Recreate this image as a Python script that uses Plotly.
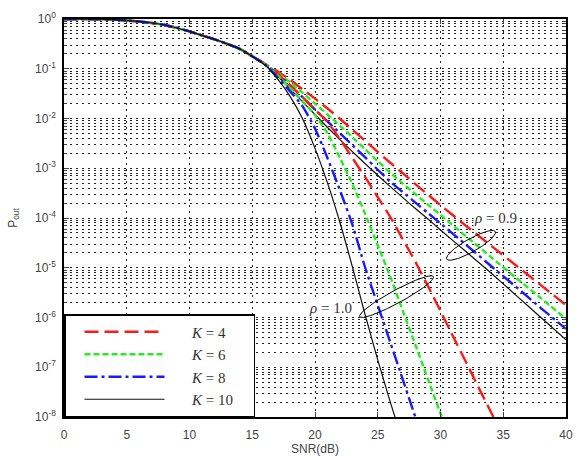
import numpy as np
import plotly.graph_objects as go

# ---------------- data (values are log10(P_out)) -------------
snr_low = [0, 2, 4, 5, 6, 7, 8, 9, 10, 11, 12, 13, 14, 15]
logp_low = [0.0, -0.001, -0.012, -0.03, -0.05, -0.08, -0.12, -0.18, -0.25, -0.33,
            -0.41, -0.5, -0.6, -0.75]

# rho = 1.0 (steep curves)
snr_r1_k4 = [16, 17, 18, 19, 20, 21, 22, 23, 24, 25, 26, 27, 28, 29, 30, 31, 32, 33, 34, 35]
logp_r1_k4 = [-0.9, -1.1, -1.33, -1.57, -1.82, -2.07, -2.42, -2.8, -3.18, -3.58, -3.98,
              -4.43, -4.88, -5.37, -5.87, -6.38, -6.88, -7.39, -7.89, -8.4]
snr_r1_k6 = [16, 17, 18, 19, 20, 21, 22, 23, 24, 25, 26, 27, 28, 29, 30, 31]
logp_r1_k6 = [-0.9, -1.13, -1.38, -1.65, -1.93, -2.3, -2.8, -3.33, -3.92, -4.55, -5.18,
              -5.87, -6.55, -7.24, -7.93, -8.6]
snr_r1_k8 = [16, 17, 18, 19, 20, 21, 22, 23, 24, 25, 26, 27, 28, 29]
logp_r1_k8 = [-0.91, -1.17, -1.45, -1.75, -2.2, -2.8, -3.45, -4.15, -5.0, -5.75, -6.5,
              -7.25, -8.0, -8.7]
snr_r1_k10 = [16, 17, 18, 19, 20, 21, 22, 23, 24, 25, 26, 27]
logp_r1_k10 = [-0.92, -1.2, -1.55, -2.0, -2.6, -3.3, -4.1, -5.0, -5.95, -6.85, -7.7, -8.5]

# rho = 0.9
snr_r09 = [16, 17, 18, 19, 20, 21, 22, 23, 24, 25, 26, 27, 28, 29, 30, 32, 34, 36, 38, 40]
logp_r09_k4 = [-0.9, -1.05, -1.22, -1.41, -1.6, -1.8, -2.01, -2.23, -2.45, -2.67, -2.89,
               -3.1, -3.32, -3.53, -3.74, -4.15, -4.55, -4.95, -5.35, -5.75]
logp_r09_k6 = [-0.91, -1.08, -1.27, -1.48, -1.7, -1.92, -2.15, -2.38, -2.62, -2.86, -3.09,
               -3.31, -3.52, -3.73, -3.94, -4.36, -4.78, -5.2, -5.61, -6.03]
logp_r09_k8 = [-0.91, -1.1, -1.33, -1.57, -1.82, -2.06, -2.3, -2.54, -2.78, -3.03, -3.27,
               -3.48, -3.69, -3.9, -4.11, -4.53, -4.96, -5.38, -5.81, -6.23]
logp_r09_k10 = [-0.92, -1.14, -1.4, -1.66, -1.92, -2.18, -2.43, -2.67, -2.91, -3.14, -3.37,
                -3.59, -3.81, -4.02, -4.24, -4.67, -5.1, -5.55, -6.0, -6.45]

NB = "\u00a0"
k_labels = ["<i>K</i> = 4", "<i>K</i> = 6", "<i>K</i> = 8", "<i>K</i> = 10"]
colors = ["#ff1a1a", "#22ee22", "#1a1aff", "#111111"]
dashes = ["14px,6px", "6px,3px", "13px,4px,3px,4px", "solid"]
widths = [2.4, 2.4, 2.4, 1.2]

x_ticks = [0, 5, 10, 15, 20, 25, 30, 35, 40]
y_exps = [0, -1, -2, -3, -4, -5, -6, -7, -8]

# ellipse annotations: center (snr, log10 P), semi-axes in px, angle deg
ell_r1 = dict(cx=26.5, cy=-5.58, a=42, b=6.5, ang=28.5)
ell_r09 = dict(cx=32.43, cy=-4.55, a=28, b=6.5, ang=29.5)
lab_r1 = dict(x=21.2, y=-5.8, text="<i>ρ</i> = 1.0")
lab_r09 = dict(x=34.4, y=-3.99, text="<i>ρ</i> = 0.9")

# ---------------- figure -------------
fig = go.Figure()

r1 = [(snr_r1_k4, logp_r1_k4), (snr_r1_k6, logp_r1_k6), (snr_r1_k8, logp_r1_k8),
      (snr_r1_k10, logp_r1_k10)]
r09 = [logp_r09_k4, logp_r09_k6, logp_r09_k8, logp_r09_k10]

for i in range(4):
    xs = snr_low + snr_r09
    ys = [10 ** v for v in logp_low + r09[i]]
    fig.add_trace(go.Scatter(x=xs, y=ys, mode="lines", name=k_labels[i],
                             legendgroup=k_labels[i], showlegend=False,
                             line=dict(color=colors[i], dash=dashes[i], width=widths[i],
                                       shape="spline", smoothing=0.6)))
for i in range(4):
    sx, sl = r1[i]
    xs = snr_low + sx
    ys = [10 ** v for v in logp_low + sl]
    fig.add_trace(go.Scatter(x=xs, y=ys, mode="lines",
                             name=NB * 6 + k_labels[i] + NB * 4,
                             legendgroup=k_labels[i], showlegend=True,
                             line=dict(color=colors[i], dash=dashes[i], width=widths[i],
                                       shape="spline", smoothing=0.6)))

PX_PER_X = 12.56
PX_PER_DEC = 49.75
for e in (ell_r1, ell_r09):
    t = np.linspace(0, 2 * np.pi, 120)
    th = np.deg2rad(e["ang"])
    dx = e["a"] * np.cos(t) * np.cos(th) - e["b"] * np.sin(t) * np.sin(th)
    dy = e["a"] * np.cos(t) * np.sin(th) + e["b"] * np.sin(t) * np.cos(th)
    fig.add_trace(go.Scatter(x=e["cx"] + dx / PX_PER_X, y=10 ** (e["cy"] + dy / PX_PER_DEC),
                             mode="lines", showlegend=False, hoverinfo="skip",
                             line=dict(color="black", width=1)))

for lab in (lab_r1, lab_r09):
    fig.add_annotation(x=lab["x"], y=lab["y"], text=lab["text"], showarrow=False,
                       bgcolor="white", borderpad=0,
                       font=dict(family="Liberation Serif, Times New Roman, serif",
                                 size=15, color="#333"))

minor_vals = [m * 10.0 ** e for e in range(-8, 0) for m in range(2, 10)]

fig.update_layout(
    width=581, height=456,
    margin=dict(l=64, r=15, t=19, b=39),
    paper_bgcolor="white", plot_bgcolor="white",
    font=dict(family="Liberation Sans, Arial, sans-serif", size=12, color="#444"),
    legend=dict(x=0, y=0, xanchor="left", yanchor="bottom",
                bgcolor="white", bordercolor="black", borderwidth=1.5,
                itemwidth=80, tracegroupgap=0, indentation=14,
                font=dict(family="Liberation Serif, Times New Roman, serif", size=15,
                          color="#333")),
    xaxis=dict(range=[0, 40], tickvals=x_ticks, ticks="inside", ticklen=5,
               ticklabelstandoff=6, automargin=False,
               showline=True, linecolor="black", linewidth=1.5, mirror="ticks",
               showgrid=True, gridcolor="#222", griddash="2px,4px", gridwidth=1,
               zeroline=False,
               title=dict(text="SNR(dB)", font=dict(size=12, color="#444"), standoff=16)),
    yaxis=dict(type="log", range=[-8, 0], automargin=False,
               tickvals=[10.0 ** e for e in y_exps],
               ticktext=["10<sup>%d</sup>" % e for e in y_exps],
               ticks="inside", ticklen=5, ticklabelstandoff=4,
               showline=True, linecolor="black", linewidth=1.5, mirror="ticks",
               showgrid=True, gridcolor="#222", griddash="2px,4px", gridwidth=1,
               minor=dict(tickvals=minor_vals, showgrid=True, gridcolor="#222",
                          griddash="2px,4px", gridwidth=1, ticks="inside", ticklen=3),
               zeroline=False,
               title=dict(text="P<sub>out</sub>", font=dict(size=12, color="#444"))),
)

fig.write_html("out.html")
